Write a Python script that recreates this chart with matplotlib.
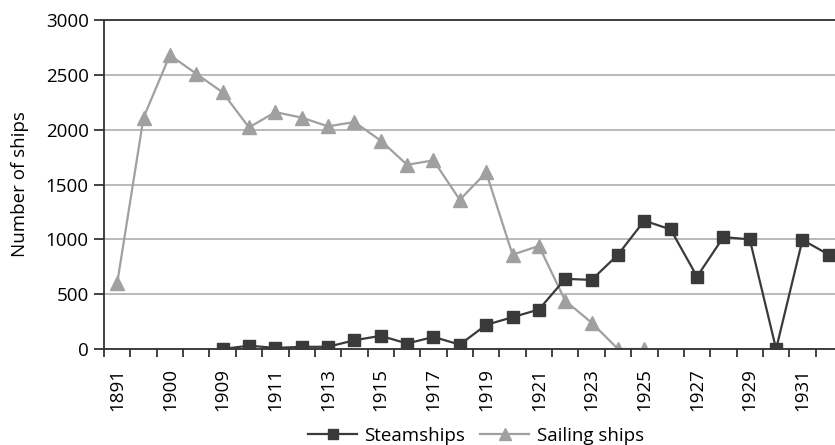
import matplotlib
matplotlib.use("Agg")
import matplotlib.pyplot as plt
import numpy as np

plt.rcParams['font.family'] = ['Open Sans', 'DejaVu Sans']

years = ["1891", "1895", "1900", "1905", "1909", "1910", "1911", "1912", "1913",
         "1914", "1915", "1916", "1917", "1918", "1919", "1920", "1921", "1922",
         "1923", "1924", "1925", "1926", "1927", "1928", "1929", "1930", "1931",
         "1932"]

# None = no data for that year
steamships = [None, None, None, None, 0, 30, 10, 20, 20, 80, 120, 50, 110, 40,
              220, 290, 360, 640, 630, 860, 1170, 1090, 660, 1020, 1000, 0,
              995, 860]
sailing_ships = [600, 2110, 2680, 2510, 2340, 2020, 2160, 2110, 2030, 2070, 1900,
                 1680, 1720, 1360, 1610, 860, 940, 440, 240, 0, 0, None, None,
                 None, None, None, None, None]

steam_color = "#3a3a3a"
sail_color = "#a0a0a0"

fig = plt.figure(figsize=(8.35, 4.45), dpi=100)
# plot area runs a little past the right edge of the image, as in the original
ax = fig.add_axes([104 / 835, 1 - 349 / 445, 738 / 835, 329 / 445])

x = np.arange(len(years))
steam = np.array([np.nan if v is None else v for v in steamships], dtype=float)
sail = np.array([np.nan if v is None else v for v in sailing_ships], dtype=float)

ax.plot(x, steam, color=steam_color, lw=1.6, marker="s", ms=8.5,
        label="Steamships", zorder=3)
ax.plot(x, sail, color=sail_color, lw=1.6, marker="^", ms=10,
        label="Sailing ships", zorder=2)

ax.set_xlim(-0.5, len(years) - 0.5)
ax.set_ylim(0, 3000)
ax.set_yticks(np.arange(0, 3001, 500))
ax.grid(axis="y", color="#b4b4b4", lw=1.3)
ax.set_axisbelow(True)

# ticks between categories, labels every other category
ax.set_xticks(np.arange(-0.5, len(years), 1.0), minor=False)
ax.set_xticklabels([])
ax.set_xticks(x[::2], minor=True)
ax.set_xticklabels(years[::2], minor=True, rotation=90, fontsize=13.5)
ax.tick_params(axis="x", which="major", length=6, width=1.3, color="#333333")
ax.tick_params(axis="x", which="minor", length=0, pad=14)
ax.tick_params(axis="y", length=7, width=1.3, color="#333333", labelsize=13.5,
               pad=4)

for side in ["left", "bottom", "top"]:
    ax.spines[side].set_color("#333333")
    ax.spines[side].set_linewidth(1.3)
ax.spines["right"].set_visible(False)

ax.set_ylabel("Number of ships", fontsize=13.5, labelpad=12)

fig.legend(loc="lower center", bbox_to_anchor=(0.57, -0.037), ncol=2,
           frameon=False, fontsize=13.5, handlelength=2.6, columnspacing=0.8,
           handletextpad=0.4, markerscale=0.8)

fig.savefig("out.png", dpi=100)
